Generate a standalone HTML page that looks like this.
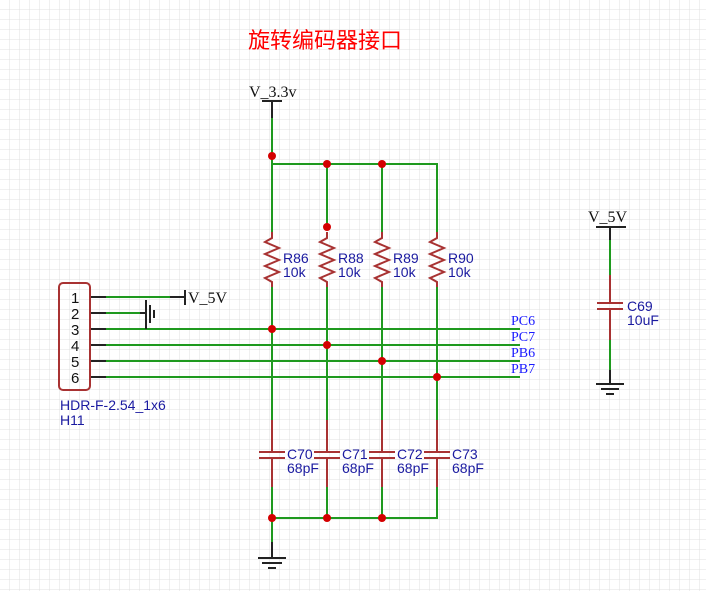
<!DOCTYPE html>
<html><head><meta charset="utf-8"><style>
html,body{margin:0;padding:0;background:#fff}
svg{display:block}
.s{font-family:"Liberation Serif",serif;font-size:16px;fill:#111}
.p{font-family:"Liberation Sans",sans-serif;font-size:15px;fill:#111}
.b{font-family:"Liberation Sans",sans-serif;font-size:14px;fill:#1a1aa0}
.n{font-family:"Liberation Serif",serif;font-size:14px;fill:#1a1aff}
</style></head><body>
<svg width="706" height="591" viewBox="0 0 706 591" xmlns="http://www.w3.org/2000/svg">
<defs><pattern id="g" x="9" y="9" width="10" height="10" patternUnits="userSpaceOnUse">
<path d="M0 0H10M0 0V10" stroke="#e0e0e0" stroke-width="1" fill="none"/></pattern></defs>
<rect width="706" height="591" fill="#fff"/>
<rect width="706" height="591" fill="url(#g)"/>
<text x="248" y="48" font-family="'Liberation Sans','Noto Sans CJK SC',sans-serif" font-size="22" fill="#ff0000">旋转编码器接口</text>

<g stroke="#1f9a1f" stroke-width="2" fill="none">
<path d="M272 118V232M272 164H437V232M327 164V227M382 164V232"/>
<path d="M272 287V420M327 287V420M382 287V420M437 287V420"/>
<path d="M272 487V542M327 487V518M382 487V518M437 487V518H272"/>
<path d="M106 297H170M106 313H140M106 329H520M106 345H520M106 361H520M106 377H520"/>
<path d="M610 240V275M610 340V370"/>
</g>
<g stroke="#222" stroke-width="2" fill="none">
<path d="M90 297H106M90 313H106M90 329H106M90 345H106M90 361H106M90 377H106"/>
<path d="M170 297H185M185 290V305"/>
<path d="M140 313H146M146 300V329M150 305V323M154 310V318"/>
<path d="M262 101H282M272 101V118"/>
<path d="M272 542V557M258 558H286M262 563H282M268 568H276"/>
<path d="M596 227H626M610 227V240"/>
<path d="M610 370V383M596 384H624M601 389H619M606 394H614"/>
</g>
<g stroke="#a83232" stroke-width="2" fill="none">
<path d="M272 232V238L265 242L279 248L265 254L279 260L265 266L279 272L265 278L272 282V287"/>
<path d="M327 232V238L320 242L334 248L320 254L334 260L320 266L334 272L320 278L327 282V287"/>
<path d="M382 232V238L375 242L389 248L375 254L389 260L375 266L389 272L375 278L382 282V287"/>
<path d="M437 232V238L430 242L444 248L430 254L444 260L430 266L444 272L430 278L437 282V287"/>
<path d="M272 420V452M272 458V487M259 452H285M259 458H285"/>
<path d="M327 420V452M327 458V487M314 452H340M314 458H340"/>
<path d="M382 420V452M382 458V487M369 452H395M369 458H395"/>
<path d="M437 420V452M437 458V487M424 452H450M424 458H450"/>
<path d="M610 275V303M610 309V340M597 303H623M597 309H623"/>
<rect x="59" y="283" width="31" height="107" rx="4"/>
</g>
<g fill="#d40000">
<circle cx="272" cy="156" r="4"/><circle cx="327" cy="164" r="4"/><circle cx="382" cy="164" r="4"/><circle cx="327" cy="227" r="4"/>
<circle cx="272" cy="329" r="4"/><circle cx="327" cy="345" r="4"/><circle cx="382" cy="361" r="4"/><circle cx="437" cy="377" r="4"/>
<circle cx="272" cy="518" r="4"/><circle cx="327" cy="518" r="4"/><circle cx="382" cy="518" r="4"/>
</g>
<text class="s" x="249" y="97">V_3.3v</text>
<text class="s" x="188" y="303">V_5V</text>
<text class="s" x="588" y="222">V_5V</text>
<text x="71" y="303" class="p">1</text><text x="71" y="319" class="p">2</text><text x="71" y="335" class="p">3</text>
<text x="71" y="351" class="p">4</text><text x="71" y="367" class="p">5</text><text x="71" y="383" class="p">6</text>
<text class="b" x="60" y="410">HDR-F-2.54_1x6</text><text class="b" x="60" y="425">H11</text>
<text class="b" x="283" y="263">R86</text><text class="b" x="283" y="277">10k</text>
<text class="b" x="338" y="263">R88</text><text class="b" x="338" y="277">10k</text>
<text class="b" x="393" y="263">R89</text><text class="b" x="393" y="277">10k</text>
<text class="b" x="448" y="263">R90</text><text class="b" x="448" y="277">10k</text>
<text class="b" x="287" y="459">C70</text><text class="b" x="287" y="473">68pF</text>
<text class="b" x="342" y="459">C71</text><text class="b" x="342" y="473">68pF</text>
<text class="b" x="397" y="459">C72</text><text class="b" x="397" y="473">68pF</text>
<text class="b" x="452" y="459">C73</text><text class="b" x="452" y="473">68pF</text>
<text class="b" x="627" y="311">C69</text><text class="b" x="627" y="325">10uF</text>
<text class="n" x="511" y="325">PC6</text><text class="n" x="511" y="341">PC7</text>
<text class="n" x="511" y="357">PB6</text><text class="n" x="511" y="373">PB7</text>
</svg>
</body></html>
